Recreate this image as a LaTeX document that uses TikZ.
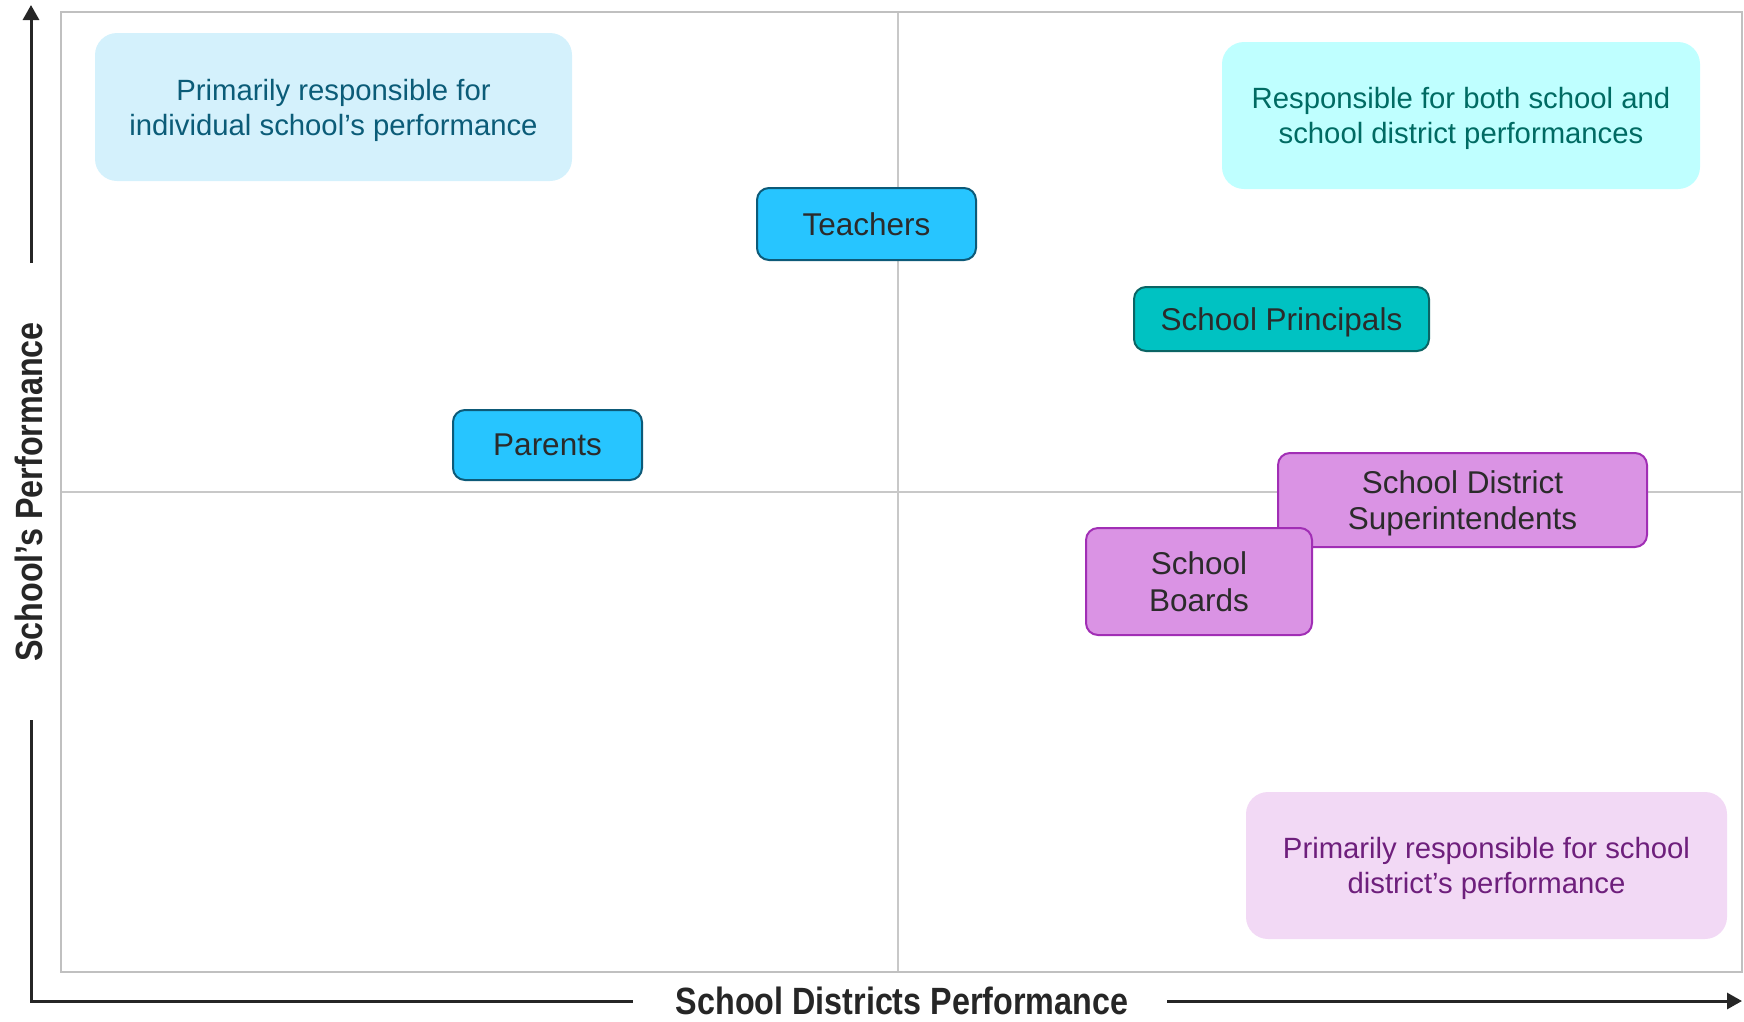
\documentclass[tikz,border=0pt]{standalone}
\usepackage{fontspec}
\setmainfont{Liberation Sans}
\newfontfamily\labelfont{Liberation Sans}[FakeStretch=0.85]
\usetikzlibrary{arrows.meta}
\definecolor{framecol}{HTML}{C0C0C0}
\definecolor{midcol}{HTML}{C8C8C8}
\definecolor{axiscol}{HTML}{262626}
\definecolor{nodetext}{HTML}{2B2B2B}
\definecolor{tlfill}{HTML}{D4F1FC}
\definecolor{tltext}{HTML}{0B5C78}
\definecolor{trfill}{HTML}{BFFFFF}
\definecolor{trtext}{HTML}{006B63}
\definecolor{brfill}{HTML}{F2D9F5}
\definecolor{brtext}{HTML}{6E1F7C}
\definecolor{bluefill}{HTML}{27C5FF}
\definecolor{blueline}{HTML}{0D5A78}
\definecolor{tealfill}{HTML}{00C2C2}
\definecolor{tealline}{HTML}{0B6464}
\definecolor{purpfill}{HTML}{DA93E4}
\definecolor{purpline}{HTML}{A12EB5}
\tikzset{
  zone/.style={rounded corners=22pt, inner sep=0pt, align=center, text depth=0pt,
    font=\fontsize{29.3}{35.2}\selectfont},
  actor/.style={draw, line width=2pt, rounded corners=12pt, inner sep=0pt, text depth=0pt,
    align=center, text=nodetext, font=\fontsize{31.5}{36.5}\selectfont},
  axis/.style={line width=3pt, draw=axiscol},
  axlabel/.style={font=\labelfont\bfseries\fontsize{38}{44}\selectfont, text=axiscol, inner sep=0pt},
  tip/.style={-{Triangle[width=16pt,length=15pt]}}
}
\begin{document}
\begin{tikzpicture}[x=1pt,y=-1pt]
\useasboundingbox (0,0) rectangle (1744,1021);
% frame and quadrant lines
\draw[midcol, line width=1.5pt] (898,12) -- (898,972);
\draw[midcol, line width=1.5pt] (61,492) -- (1742,492);
\draw[framecol, line width=2.5pt] (61,12) rectangle (1742,972);
% zone boxes
\node[zone, fill=tlfill, text=tltext, minimum width=477pt, minimum height=148pt] (zoneTL) at (333.5,107)
  {Primarily responsible for\\individual school’s performance};
\node[zone, fill=trfill, text=trtext, minimum width=478pt, minimum height=147pt] (zoneTR) at (1461,115.5)
  {Responsible for both school and\\school district performances};
\node[zone, fill=brfill, text=brtext, minimum width=481pt, minimum height=147pt] (zoneBR) at (1486.5,865.5)
  {Primarily responsible for school\\district’s performance};
% actors
\node[actor, fill=bluefill, draw=blueline, minimum width=219pt, minimum height=72pt] (teachers) at (866.5,224) {Teachers};
\node[actor, fill=bluefill, draw=blueline, minimum width=189pt, minimum height=70pt] (parents) at (547.5,445) {Parents};
\node[actor, fill=tealfill, draw=tealline, minimum width=295pt, minimum height=64pt] (principals) at (1281.5,319) {School Principals};
\node[actor, fill=purpfill, draw=purpline, minimum width=369pt, minimum height=94pt] (supers) at (1462.5,500) {School District\\Superintendents};
\node[actor, fill=purpfill, draw=purpline, minimum width=226pt, minimum height=107pt] (boards) at (1199,581.5) {School\\Boards};
% axes
\coordinate (O) at (31,1001);
\coordinate (ytop) at (31,5);
\coordinate (ylow) at (31,720);
\coordinate (yhigh) at (31,263);
\coordinate (xleft) at (633,1001);
\coordinate (xright) at (1167,1001);
\coordinate (xend) at (1742,1001);
\draw[axis] (ylow) -- (O) -- (xleft);
\draw[axis, tip] (yhigh) -- (ytop);
\draw[axis, tip] (xright) -- (xend);
\node[axlabel, rotate=90, anchor=base] (ylabel) at (42,492) {School’s Performance};
\node[axlabel, anchor=base] (xlabel) at (902,1014) {School Districts Performance};
\end{tikzpicture}
\end{document}
